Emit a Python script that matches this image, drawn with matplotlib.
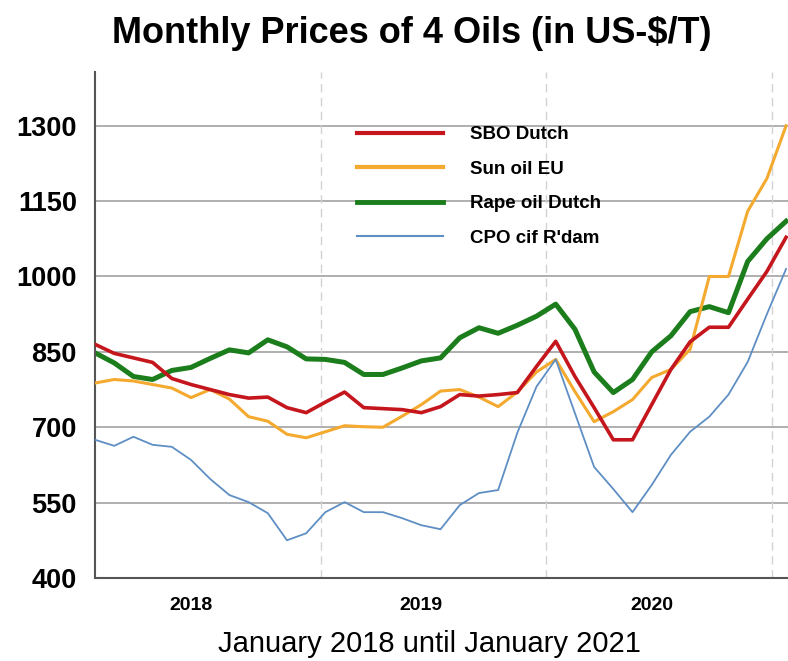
import matplotlib
matplotlib.use("Agg")
import matplotlib.pyplot as plt

plt.rcParams['font.family'] = ['Liberation Sans', 'DejaVu Sans']

# monthly points, Jan 2018 .. Jan 2021 (US-$/T)
months = list(range(37))
sbo_dutch = [865, 847, 838, 829, 797, 785, 775, 765, 758, 760, 739, 729,
             750, 770, 739, 737, 735, 729, 741, 765, 762, 765, 769, 821,
             871, 801, 739, 675, 675, 745, 815, 870, 899, 899, 955, 1010, 1078]
sun_oil_eu = [788, 795, 792, 785, 778, 759, 775, 756, 721, 712, 686, 679,
              691, 703, 701, 700, 722, 745, 772, 775, 760, 741, 770, 810,
              835, 771, 711, 731, 755, 799, 815, 855, 1000, 1000, 1130, 1195, 1300]
rape_oil_dutch = [848, 828, 801, 795, 813, 819, 837, 854, 848, 874, 860, 836,
                  835, 829, 805, 805, 818, 832, 838, 878, 898, 887, 903, 921,
                  945, 895, 810, 769, 795, 850, 882, 930, 940, 928, 1030, 1075, 1110]
cpo_cif_rdam = [675, 663, 681, 665, 661, 635, 597, 565, 551, 529, 475, 489,
                531, 551, 531, 531, 519, 505, 497, 545, 569, 575, 689, 781,
                835, 728, 621, 577, 531, 585, 645, 691, 721, 765, 830, 925, 1015]

year_labels = ['2018', '2019', '2020']
year_label_pos = [5, 17, 29]
year_bounds = [11.75, 23.5, 35.25]
yticks = [400, 550, 700, 850, 1000, 1150, 1300]

fig = plt.figure(figsize=(7.88, 6.61), dpi=100)
ax = fig.add_axes([0.1206, 0.1256, 0.8794, 0.7655])

ax.plot(months, sbo_dutch, color='#c4161c', lw=2.6, label='SBO Dutch', zorder=4)
ax.plot(months, sun_oil_eu, color='#f4a92f', lw=2.2, label='Sun oil EU', zorder=3)
ax.plot(months, rape_oil_dutch, color='#1b7d1b', lw=3.6, label='Rape oil Dutch', zorder=2)
ax.plot(months, cpo_cif_rdam, color='#5e8fc4', lw=1.3, label="CPO cif R'dam", zorder=5)

ax.set_xlim(0, 36.1)
ax.set_ylim(400, 1407)

# grid
for y in yticks[1:]:
    ax.axhline(y, color='#9a9a9a', lw=1.1, zorder=1)
for x in year_bounds:
    ax.axvline(x, color='#d2d2d2', lw=1.0, ls=(0, (6, 4)), zorder=1)

ax.set_yticks(yticks)
ax.set_yticklabels([str(v) for v in yticks], fontsize=19.5, fontweight='bold')
ax.set_xticks(year_label_pos)
ax.set_xticklabels(year_labels, fontsize=14, fontweight='bold')
ax.tick_params(axis='y', length=0, pad=13)
ax.tick_params(axis='x', length=0, pad=14)

for s in ['top', 'right']:
    ax.spines[s].set_visible(False)
for s in ['left', 'bottom']:
    ax.spines[s].set_color('#555555')
    ax.spines[s].set_linewidth(1.5)

ax.set_xlabel('January 2018 until January 2021', fontsize=21, x=0.483, labelpad=11)

leg = ax.legend(loc='upper left', bbox_to_anchor=(0.378, 0.893), frameon=False,
                fontsize=13.5, handlelength=4.6, handletextpad=1.45,
                labelspacing=0.93, borderpad=0, borderaxespad=0)
for t in leg.get_texts():
    t.set_fontweight('bold')
leg_widths = [3, 3, 3.5, 1.5]
for h, w in zip(leg.get_lines(), leg_widths):
    h.set_linewidth(w)

fig.text(0.522, 0.950, 'Monthly Prices of 4 Oils (in US-$/T)', ha='center', va='center',
         fontsize=26, fontweight='bold')

fig.savefig('out.png', dpi=100)
